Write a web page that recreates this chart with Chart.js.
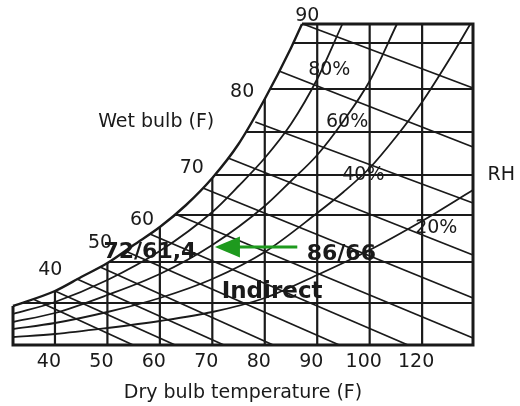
<!DOCTYPE html>
<html>
<head>
<meta charset="utf-8">
<title>Psychrometric chart - indirect cooling</title>
<script src="https://cdn.jsdelivr.net/npm/chart.js@4.4.1/dist/chart.umd.min.js"></script>
<style>
  html, body { margin: 0; padding: 0; background: #fff; }
</style>
</head>
<body>
<canvas id="chart" width="520" height="406"></canvas>
<script>
// x = dry bulb (F), y = humidity ratio in chart units (0 = bottom edge, 321 = top edge)
const xTickValues = [40, 50, 60, 70, 80, 90, 100, 110];
const xTickLabels = ['40', '50', '60', '70', '80', '90', '100', '120'];

// saturation curve (100% RH)
const satF = [32, 40, 45, 50, 55, 60, 65, 70, 75, 80, 85, 87.1];
const satW = [39, 54, 68, 82, 100, 118, 140, 167, 201, 246, 297, 321];

// relative humidity curves
const rh80F = [32, 40, 50, 60, 70, 75, 80, 85, 90, 94.8];
const rh80W = [31, 43, 65, 94, 133, 159, 187, 221, 266, 321];
const rh60F = [32, 40, 50, 60, 70, 80, 85, 90, 95, 100, 105.2];
const rh60W = [23, 32, 50, 71, 100, 139, 164, 190, 224, 264, 321];
const rh40F = [32, 40, 50, 60, 70, 80, 90, 95, 100, 105, 110, 115, 119.2];
const rh40W = [16, 22, 33, 47, 66, 93, 132, 153, 177, 208, 243, 284, 321];
const rh20F = [32, 40, 50, 60, 70, 80, 90, 100, 110, 119.7];
const rh20W = [8, 11, 17, 24, 33, 47, 70, 95, 124, 155];

// wet bulb lines every 5 F, from the saturation curve down to the edge
const wbTemps  = [35, 40, 45, 50, 55, 60, 65, 70, 75, 80, 85, 90];
const wbStartF = [35.8, 40, 44.2, 48.6, 53.4, 58.1, 62.9, 68.2, 73.0, 78.2, 82.7, 87.3];
const wbStartW = [46, 54, 66, 78, 94, 111, 131, 157, 187, 223, 274, 321];
const wbEndF   = [54.9, 62.9, 72.2, 81.6, 94.2, 107.3, 119.7, 119.7, 119.7, 119.7, 119.7, 119.7];
const wbEndW   = [0, 0, 0, 0, 0, 0, 7, 47, 90, 142, 198, 257];

// constant humidity ratio lines
const humW      = [42, 83, 130, 170, 213, 256, 302];
const humStartF = [33.6, 50.3, 62.7, 70.4, 76.6, 81.0, 85.5];

// dry bulb lines, bottom edge up to the saturation curve
const dbF    = [40, 50, 60, 70, 80, 90, 100, 110];
const dbTopW = [54, 82, 118, 167, 246, 321, 321, 321];

// outline of the chart (top, right, bottom and left edges)
const frameF = [87.1, 119.7, 119.7, 32, 32];
const frameW = [321, 321, 0, 0, 39];

const X_MIN = 32, X_MAX = 119.7, Y_MAX = 321;
const INK = '#1a1a1a';

function line(xs, ys, width, smooth) {
    return {
        data: xs.map((x, i) => ({ x: x, y: ys[i] })),
        borderColor: INK,
        borderWidth: width,
        pointRadius: 0,
        tension: 0,
        cubicInterpolationMode: smooth ? 'monotone' : 'default',
        fill: false,
        clip: false
    };
}

const datasets = [];
dbF.forEach((f, i) => datasets.push(line([f, f], [0, dbTopW[i]], 2.2, false)));
humW.forEach((w, i) => datasets.push(line([humStartF[i], X_MAX], [w, w], 2.2, false)));
wbTemps.forEach((t, i) => datasets.push(line([wbStartF[i], wbEndF[i]], [wbStartW[i], wbEndW[i]], 1.8, false)));
datasets.push(line(rh80F, rh80W, 1.8, true));
datasets.push(line(rh60F, rh60W, 1.8, true));
datasets.push(line(rh40F, rh40W, 1.8, true));
datasets.push(line(rh20F, rh20W, 1.8, true));
datasets.push(line(satF, satW, 2.4, true));
datasets.push(line(frameF, frameW, 3, false));

// text on the chart: [text, dry bulb, humidity, size, weight]
const notes = [
    ['90', 88.1, 329, 19, 'normal'],
    ['80', 75.7, 253, 19, 'normal'],
    ['Wet bulb (F)', 59.3, 223, 19, 'normal'],
    ['70', 66.1, 177, 19, 'normal'],
    ['60', 56.6, 125, 19, 'normal'],
    ['50', 48.6, 102, 19, 'normal'],
    ['40', 39.1, 75, 19, 'normal'],
    ['80%', 92.3, 275, 19, 'normal'],
    ['60%', 95.7, 223, 19, 'normal'],
    ['40%', 98.8, 170, 19, 'normal'],
    ['20%', 112.7, 117, 19, 'normal'],
    ['RH', 125.1, 170, 19, 'normal'],
    ['72/61,4', 58.1, 93, 22, 'bold'],
    ['86/66', 94.6, 91, 22, 'bold'],
    ['Indirect', 81.4, 53, 23, 'bold']
];

// process arrow from 86/66 towards 72/61,4
const arrowFrom = 86.2, arrowTo = 70.5, arrowW = 98;

const annotate = {
    id: 'annotate',
    afterDatasetsDraw(chart) {
        const { ctx, scales: { x, y } } = chart;
        ctx.save();

        const x0 = x.getPixelForValue(arrowFrom);
        const x1 = x.getPixelForValue(arrowTo);
        const ay = y.getPixelForValue(arrowW);
        ctx.strokeStyle = '#1e9a1e';
        ctx.fillStyle = '#1e9a1e';
        ctx.lineWidth = 3;
        ctx.beginPath();
        ctx.moveTo(x0, ay);
        ctx.lineTo(x1 + 22, ay);
        ctx.stroke();
        ctx.beginPath();
        ctx.moveTo(x1, ay);
        ctx.lineTo(x1 + 25, ay - 10.5);
        ctx.lineTo(x1 + 25, ay + 10.5);
        ctx.closePath();
        ctx.fill();

        ctx.textAlign = 'center';
        ctx.textBaseline = 'middle';
        ctx.fillStyle = '#1a1a1a';
        notes.forEach(([text, f, w, size, weight]) => {
            ctx.font = `${weight} ${size}px "DejaVu Sans"`;
            ctx.fillText(text, x.getPixelForValue(f), y.getPixelForValue(w));
        });
        ctx.restore();
    }
};

Chart.defaults.font.family = '"DejaVu Sans"';

new Chart(document.getElementById('chart'), {
    type: 'line',
    data: { datasets: datasets },
    options: {
        responsive: false,
        animation: false,
        layout: { padding: { left: 13, right: 47, top: 24, bottom: 0 } },
        plugins: { legend: { display: false }, tooltip: { enabled: false } },
        scales: {
            x: {
                type: 'linear',
                min: X_MIN,
                max: X_MAX,
                afterBuildTicks: (scale) => { scale.ticks = xTickValues.map(v => ({ value: v })); },
                afterFit: (scale) => { scale.height = 61; },
                grid: { display: false, drawTicks: false },
                border: { display: false },
                ticks: {
                    callback: (value, index) => xTickLabels[index],
                    labelOffset: -6,
                    padding: 6,
                    autoSkip: false,
                    maxRotation: 0,
                    color: '#1a1a1a',
                    font: { size: 19 }
                },
                title: {
                    display: true,
                    text: 'Dry bulb temperature (F)',
                    color: '#1a1a1a',
                    font: { size: 19 },
                    padding: { top: 0, bottom: 2 }
                }
            },
            y: { type: 'linear', min: 0, max: Y_MAX, display: false }
        }
    },
    plugins: [annotate]
});
</script>
</body>
</html>
